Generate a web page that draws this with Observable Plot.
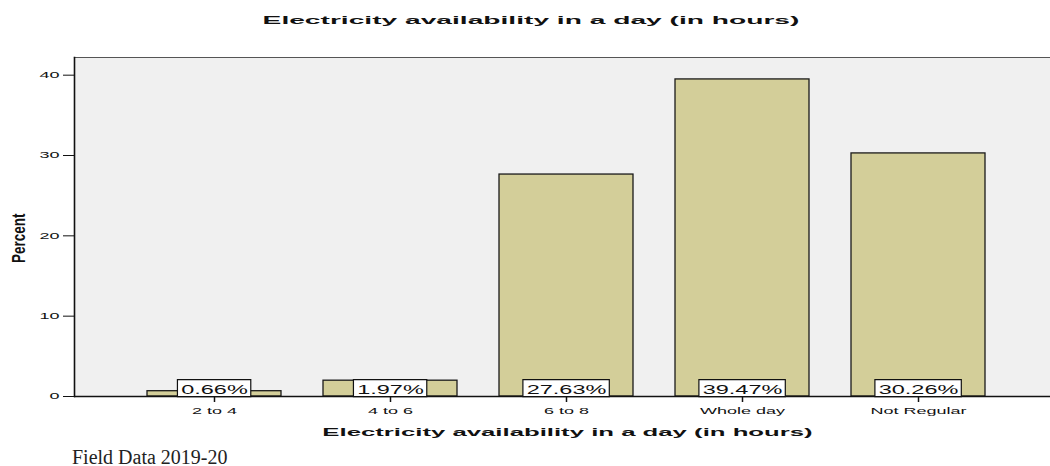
<!DOCTYPE html>
<html>
<head>
<meta charset="utf-8">
<script src="https://cdn.jsdelivr.net/npm/d3@7"></script>
<script src="https://cdn.jsdelivr.net/npm/@observablehq/plot@0.6"></script>
<style>
  html, body { margin: 0; padding: 0; background: #fff; overflow: hidden; }
  body { width: 1050px; height: 466px; position: relative; }
  #title { position: relative; height: 40px; }
  #title span {
    position: absolute; left: 531px; top: 14px; line-height: 12px;
    font: bold 11px "Liberation Sans", Arial, sans-serif; color: #111;
    white-space: nowrap; transform-origin: center; transform: translateX(-50%) scaleX(2.56);
  }
  #chart svg { display: block; }
  #caption { height: 20px; padding-top: 2px; line-height: 22px; padding-left: 72px;
    font: 20px "Liberation Serif", "Times New Roman", serif; color: #222; }
</style>
</head>
<body>
<div id="title"><span>Electricity availability in a day (in hours)</span></div>
<div id="chart"></div>
<div id="caption">Field Data 2019-20</div>
<script>
const categories = ["2 to 4", "4 to 6", "6 to 8", "Whole day", "Not Regular"];
const percents = [0.66, 1.97, 27.63, 39.47, 30.26];
const yTicks = [0, 10, 20, 30, 40];
const xTitle = "Electricity availability in a day (in hours)";
const yTitle = "Percent";

const data = categories.map((c, i) => ({cat: c, pct: percents[i]}));
const fmt = v => v.toFixed(2) + "%";

const chart = Plot.plot({
  width: 1050,
  height: 404,
  marginLeft: 74,
  marginRight: 0,
  marginTop: 17,
  marginBottom: 48,
  style: {fontFamily: "'Liberation Sans', Arial, sans-serif", background: "white", color: "#111"},
  x: {type: "band", domain: categories, range: [123.6, 1007.4], paddingInner: 0.24, paddingOuter: 0.12, align: 0.5},
  y: {domain: [0, 42.2]},
  marks: [
    Plot.frame({fill: "#f0f0f0", stroke: null}),
    Plot.frame({anchor: "top", stroke: "#555", strokeWidth: 1.2}),
    Plot.barY(data, {x: "cat", y: "pct", fill: "#d3ce99", stroke: "#1a1a1a", strokeWidth: 1.3}),
    Plot.frame({anchor: "left", stroke: "#111", strokeWidth: 1.6}),
    Plot.axisY({ticks: yTicks, tickSize: 11, tickPadding: 4, fontSize: 9, label: null, stroke: "#111"}),
    Plot.axisX({tickSize: 6, tickPadding: 5, fontSize: 9, label: null, stroke: "#111", strokeWidth: 1.5}),
    Plot.ruleY([0], {stroke: "#111", strokeWidth: 1.5}),
    Plot.text(data, {x: "cat", y: 0, text: d => fmt(d.pct), fontSize: 12.5, fill: "#111",
      textAnchor: "middle", lineAnchor: "bottom", dy: -2.5}),
    Plot.text([xTitle], {text: d => d, frameAnchor: "bottom", dx: 5, dy: 35.5, fontSize: 11, fontWeight: "bold",
      lineAnchor: "middle", fill: "#111"}),
    Plot.text([yTitle], {text: d => d, frameAnchor: "left", rotate: -90, dx: -56, dy: 36, fontSize: 13.5,
      fontWeight: "bold", lineAnchor: "middle", fill: "#111"})
  ]
});
document.getElementById("chart").append(chart);

// reproduce the horizontal stretch of the original rendering
function stretchText(t, sx, sy) {
  let tr = t.getAttribute("transform");
  if (tr === null) {
    const x = t.getAttribute("x"), y = t.getAttribute("y");
    const nx = isFinite(+x) ? +x : 0, ny = isFinite(+y) ? +y : 0;
    if (isFinite(+x)) t.removeAttribute("x");
    if (isFinite(+y)) t.removeAttribute("y");
    tr = `translate(${nx},${ny})`;
  }
  t.setAttribute("transform", tr + ` scale(${sx},${sy})`);
}
const barLabelSet = new Set(percents.map(fmt));
const tickLabelSet = new Set([...categories, ...yTicks.map(String)]);
const NS = "http://www.w3.org/2000/svg";
chart.querySelectorAll("text").forEach(t => {
  const s = t.textContent;
  if (s === xTitle) stretchText(t, 2.34, 1);
  else if (s === yTitle) stretchText(t, 1, 1.4);
  else if (barLabelSet.has(s)) {
    stretchText(t, 1.88, 1);
    const b = t.getBBox();
    const r = document.createElementNS(NS, "rect");
    r.setAttribute("x", b.x - 2);
    r.setAttribute("y", b.y - 3);
    r.setAttribute("width", b.width + 3.4);
    r.setAttribute("height", b.height + 3);
    r.setAttribute("fill", "white");
    r.setAttribute("stroke", "#111");
    r.setAttribute("stroke-width", 1.2);
    r.setAttribute("vector-effect", "non-scaling-stroke");
    r.setAttribute("transform", t.getAttribute("transform"));
    t.parentNode.insertBefore(r, t);
  } else if (tickLabelSet.has(s)) stretchText(t, 2, 1);
});
</script>
</body>
</html>
